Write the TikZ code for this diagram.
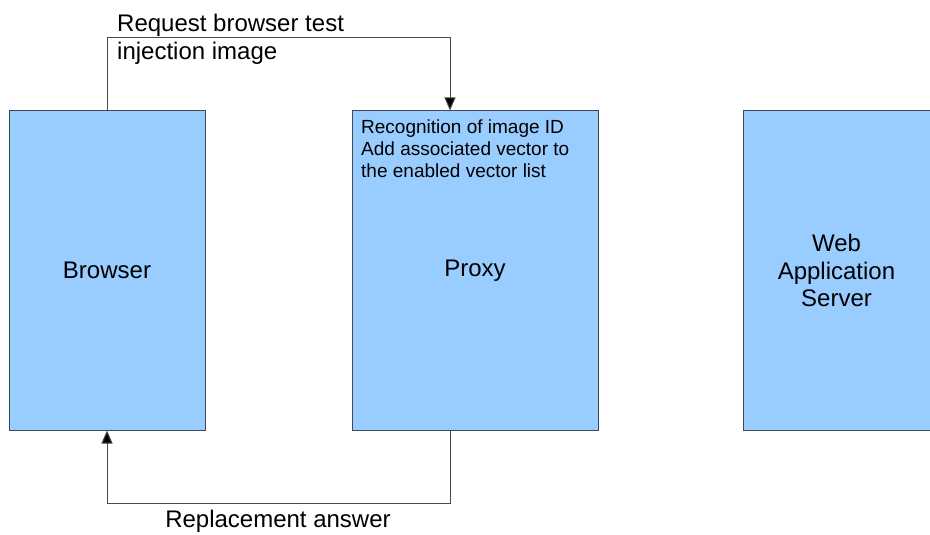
\documentclass[tikz,border=0pt]{standalone}
\usepackage{fontspec}
\setmainfont{Liberation Sans}
\usetikzlibrary{arrows.meta}
\definecolor{boxfill}{HTML}{99CCFF}
\definecolor{boxline}{HTML}{3E4A58}
\definecolor{wire}{HTML}{4A4A4A}
\tikzset{
  unit/.style={draw=boxline, fill=boxfill, line width=1pt, rectangle,
    minimum height=319pt, inner sep=0pt, align=center,
    font=\fontsize{24}{27.5}\selectfont},
  conn/.style={draw=wire, line width=1pt, -{Triangle[length=13pt,width=11pt,fill=black]}},
  caption/.style={inner sep=0pt, align=left, font=\fontsize{24}{27.5}\selectfont},
  note/.style={inner sep=0pt, align=left, font=\fontsize{19}{22}\selectfont}
}
\begin{document}
\begin{tikzpicture}[x=1pt,y=-1pt]
  \useasboundingbox (0,0) rectangle (930,535);
  \clip (0,0) rectangle (930,535);

  % the three components
  \node[unit, minimum width=196pt] (browser) at (107,270.5) {Browser};
  \node[unit, minimum width=246pt] (proxy) at (475,270.5) {Proxy};
  \node[unit, minimum width=190pt] (server) at (838,270.5) {};
  \node[align=center, inner sep=0pt, font=\fontsize{24}{27.5}\selectfont] (serverlabel) at (836.5,270.5) {Web\\Application\\Server};

  \node[note, anchor=north west] (proxynote) at (361,120)
    {Recognition of image ID\\Add associated vector to\\the enabled vector list};

  % request from browser to proxy
  \coordinate (ptop) at ([xshift=-25pt]proxy.north);
  \coordinate (pbot) at ([xshift=-25pt]proxy.south);
  \draw[conn] (browser.north) -- ++(0,-73) -| (ptop);
  \node[caption, anchor=north west] (reqlabel) at (117,14)
    {Request browser test\\injection image};

  % answer from proxy back to browser
  \draw[conn] (pbot) -- ++(0,73) -| (browser.south);
  \node[caption, anchor=north] (anslabel) at (278,510) {Replacement answer};
\end{tikzpicture}
\end{document}
